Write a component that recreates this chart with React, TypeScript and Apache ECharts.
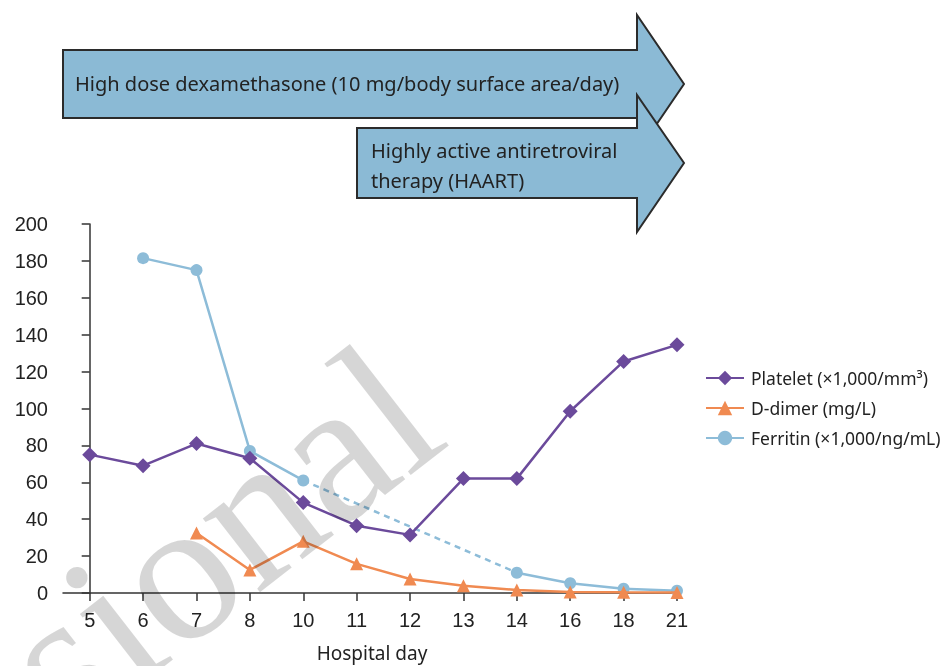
import React, { useEffect, useRef } from "react";
import * as echarts from "echarts";

const days = ["5", "6", "7", "8", "10", "11", "12", "13", "14", "16", "18", "21"];
const platelet = [75, 69, 81, 73, 49, 36.5, 31.5, 62, 62, 98.5, 125.5, 134.5];
const dDimer = [null, null, 32.5, 12.5, 28, 15.8, 7.6, 3.9, 1.6, 0.6, 0.4, 0.3];
const ferritin = [null, 181.5, 175, 77, 61, null, null, null, 11, 5.3, 2.3, 1.2];
const yTicks = { min: 0, max: 200, interval: 20 };

const names = ["Platelet (×1,000/mm³)", "D-dimer (mg/L)", "Ferritin (×1,000/ng/mL)"];
const colors = ["#6b4a9b", "#f08a51", "#8dbcd8"];

export default function App() {
  const ref = useRef<HTMLDivElement>(null);
  useEffect(() => {
    if (!ref.current) return;
    const chart = echarts.init(ref.current, null, { renderer: "svg" });
    const idx = days.map((_, i) => i);
    const toPairs = (arr: (number | null)[]) => arr.map((v, i) => [i, v]);
    // dashed connection across the missing ferritin values (days 10 -> 14)
    const ferritinGap = ferritin.map((v, i) => (i === 4 || i === 8 ? [i, v] : [i, null]));
    const option: any = {
      animation: false,
      grid: { left: 63, right: 269, top: 224, bottom: 73, outerBoundsMode: "none", containLabel: false },
      legend: {
        data: names,
        orient: "vertical",
        left: 705,
        top: 369,
        padding: 0,
        itemWidth: 38,
        itemHeight: 18,
        itemGap: 12,
        textStyle: { fontFamily: "Noto Sans", fontSize: 17.5, color: "#222", padding: [0, 0, 0, 2] },
      },
      xAxis: {
        type: "value",
        min: -0.5,
        max: 11.075,
        splitLine: { show: false },
        axisLine: { show: true, lineStyle: { color: "#333", width: 1.5 } },
        axisTick: { show: true, length: 8, customValues: idx, lineStyle: { color: "#333", width: 1.5 } },
        axisLabel: {
          customValues: idx,
          formatter: (v: number) => days[Math.round(v)] ?? "",
          fontFamily: "Liberation Sans",
          fontSize: 20,
          color: "#222",
          margin: 17,
        },
        name: "Hospital day",
        nameLocation: "middle",
        nameGap: 50,
        nameTextStyle: { fontFamily: "Noto Sans", fontSize: 19, color: "#222", lineHeight: 20 },
      },
      yAxis: {
        type: "value",
        min: yTicks.min,
        max: yTicks.max,
        interval: yTicks.interval,
        splitLine: { show: false },
        axisLine: { show: true, lineStyle: { color: "#333", width: 1.5 } },
        axisTick: { show: true, length: 8, lineStyle: { color: "#333", width: 1.5 } },
        axisLabel: { fontFamily: "Liberation Sans", fontSize: 20, color: "#222", margin: 15 },
      },
      series: [
        {
          name: names[0],
          type: "line",
          data: toPairs(platelet),
          symbol: "diamond",
          symbolSize: 15,
          itemStyle: { color: colors[0] },
          lineStyle: { color: colors[0], width: 2.5 },
          z: 4,
        },
        {
          name: names[1],
          type: "line",
          data: toPairs(dDimer),
          symbol: "triangle",
          symbolSize: 13,
          itemStyle: { color: colors[1] },
          lineStyle: { color: colors[1], width: 2.5 },
          z: 3,
        },
        {
          name: names[2],
          type: "line",
          data: toPairs(ferritin),
          symbol: "circle",
          symbolSize: 12,
          itemStyle: { color: colors[2] },
          lineStyle: { color: colors[2], width: 2.5 },
          z: 2,
        },
        {
          name: "ferritin-gap",
          type: "line",
          data: ferritinGap,
          connectNulls: true,
          showSymbol: false,
          symbol: "none",
          lineStyle: { color: colors[2], width: 2.5, type: [6, 5] },
          z: 1,
        },
      ],
      graphic: [
        {
          type: "polygon",
          shape: { points: [[63, 50], [637, 50], [637, 15], [684, 84], [637, 153], [637, 118], [63, 118]] },
          style: { fill: "#8bbad5", stroke: "#2b2b2b", lineWidth: 2 },
          z: 10,
        },
        {
          type: "text",
          x: 75,
          y: 83,
          style: {
            text: "High dose dexamethasone (10 mg/body surface area/day)",
            fontFamily: "Noto Sans",
            fontSize: 20,
            fill: "#222",
            verticalAlign: "middle",
          },
          z: 11,
        },
        {
          type: "polygon",
          shape: { points: [[357, 128], [637, 128], [637, 95], [684, 163], [637, 232], [637, 198], [357, 198]] },
          style: { fill: "#8bbad5", stroke: "#2b2b2b", lineWidth: 2 },
          z: 12,
        },
        {
          type: "text",
          x: 371,
          y: 165,
          style: {
            text: "Highly active antiretroviral\ntherapy (HAART)",
            fontFamily: "Noto Sans",
            fontSize: 20,
            lineHeight: 30,
            fill: "#222",
            verticalAlign: "middle",
          },
          z: 13,
        },
        {
          type: "text",
          x: 27,
          y: 686,
          rotation: 0.66,
          silent: true,
          style: {
            text: "sional",
            fontFamily: "Liberation Serif",
            fontSize: 203,
            fill: "rgba(0,0,0,0.16)",
            verticalAlign: "middle",
            align: "left",
          },
          z: 100,
        },
      ],
    };
    chart.setOption(option);
    return () => chart.dispose();
  }, []);
  return <div ref={ref} style={{ position: "fixed", left: 0, top: 0, width: 950, height: 666 }} />;
}
